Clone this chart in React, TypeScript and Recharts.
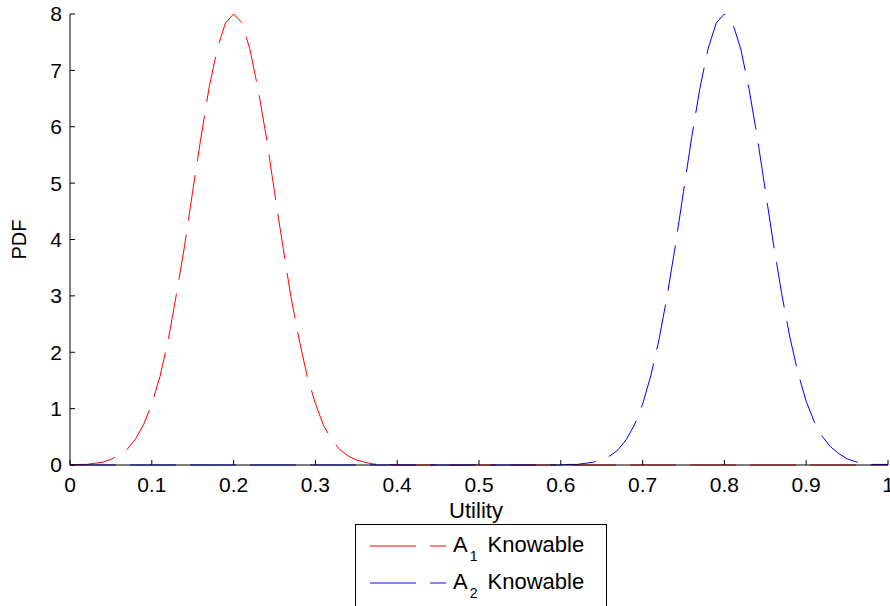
import React from 'react';
import { LineChart, Line, XAxis, YAxis, Legend } from 'recharts';

// utility grid (x) and the two density curves
const utility = [
  0, 0.01, 0.02, 0.03, 0.04, 0.05, 0.06, 0.07, 0.08, 0.09,
  0.1, 0.11, 0.12, 0.13, 0.14, 0.15, 0.16, 0.17, 0.18, 0.19,
  0.2, 0.21, 0.22, 0.23, 0.24, 0.25, 0.26, 0.27, 0.28, 0.29,
  0.3, 0.31, 0.32, 0.33, 0.34, 0.35, 0.36, 0.37, 0.38, 0.39,
  0.4, 0.41, 0.42, 0.43, 0.44, 0.45, 0.46, 0.47, 0.48, 0.49,
  0.5, 0.51, 0.52, 0.53, 0.54, 0.55, 0.56, 0.57, 0.58, 0.59,
  0.6, 0.61, 0.62, 0.63, 0.64, 0.65, 0.66, 0.67, 0.68, 0.69,
  0.7, 0.71, 0.72, 0.73, 0.74, 0.75, 0.76, 0.77, 0.78, 0.79,
  0.8, 0.81, 0.82, 0.83, 0.84, 0.85, 0.86, 0.87, 0.88, 0.89,
  0.9, 0.91, 0.92, 0.93, 0.94, 0.95, 0.96, 0.97, 0.98, 0.99,
  1,
];

const a1Knowable = [
  0.0, 0.01, 0.01, 0.03, 0.05, 0.1, 0.17, 0.28, 0.46, 0.72,
  1.08, 1.57, 2.21, 3.02, 3.88, 4.86, 5.8, 6.69, 7.38, 7.84,
  8.0, 7.85, 7.37, 6.66, 5.82, 4.84, 3.9, 2.99, 2.23, 1.57,
  1.09, 0.7, 0.45, 0.27, 0.16, 0.09, 0.05, 0.02, 0.01, 0.01,
  0, 0, 0, 0, 0, 0, 0, 0, 0, 0,
  0, 0, 0, 0, 0, 0, 0, 0, 0, 0,
  0, 0, 0, 0, 0, 0, 0, 0, 0, 0,
  0, 0, 0, 0, 0, 0, 0, 0, 0, 0,
  0, 0, 0, 0, 0, 0, 0, 0, 0, 0,
  0, 0, 0, 0, 0, 0, 0, 0, 0, 0,
  0,
];

const a2Knowable = [
  0, 0, 0, 0, 0, 0, 0, 0, 0, 0,
  0, 0, 0, 0, 0, 0, 0, 0, 0, 0,
  0, 0, 0, 0, 0, 0, 0, 0, 0, 0,
  0, 0, 0, 0, 0, 0, 0, 0, 0, 0,
  0, 0, 0, 0, 0, 0, 0, 0, 0, 0,
  0, 0, 0, 0, 0, 0, 0, 0, 0, 0,
  0.0, 0.01, 0.01, 0.03, 0.05, 0.1, 0.16, 0.27, 0.45, 0.71,
  1.08, 1.58, 2.22, 3.0, 3.89, 4.85, 5.81, 6.68, 7.38, 7.84,
  8.0, 7.84, 7.38, 6.68, 5.83, 4.87, 3.92, 3.04, 2.27, 1.63,
  1.13, 0.76, 0.5, 0.32, 0.2, 0.11, 0.06, 0.03, 0.01, 0.01,
  0.01,
];

const xTicks = [0, 0.1, 0.2, 0.3, 0.4, 0.5, 0.6, 0.7, 0.8, 0.9, 1];
const yTicks = [0, 1, 2, 3, 4, 5, 6, 7, 8];

const data = utility.map((x, i) => ({ x, a1: a1Knowable[i], a2: a2Knowable[i] }));

const FONT = '"Liberation Sans", Arial, Helvetica, sans-serif';
const DASH = '46 14';

const LegendRow = ({ y, color, sub }: { y: number; color: string; sub: string }) => (
  <g>
    <line x1={15} x2={91} y1={y} y2={y} stroke={color} strokeDasharray={DASH} />
    <text x={98} y={y + 6} fontSize={22} fill="#000" fontFamily={FONT}>
      A<tspan dy={9} dx={2} fontSize={14}>{sub}</tspan>
      <tspan dy={-9} dx={10} fontSize={22}>Knowable</tspan>
    </text>
  </g>
);

const LegendBox = () => (
  <svg width={252} height={90} style={{ display: 'block' }}>
    <rect x={0.5} y={0.5} width={251} height={100} fill="#fff" stroke="#000" strokeWidth={1} />
    <LegendRow y={22} color="#ff0000" sub="1" />
    <LegendRow y={59} color="#0000ff" sub="2" />
  </svg>
);

const App = () => {
  const fmt = (v: number) => String(v);
  return (
    <div style={{ position: 'absolute', left: 0, top: 0, width: 890, height: 606, overflow: 'hidden', background: '#fff', fontFamily: FONT }}>
      <LineChart width={890} height={606} data={data} margin={{ top: 14, right: 2, bottom: 111, left: 10 }}>
        <XAxis
          xAxisId="b"
          dataKey="x"
          type="number"
          domain={[0, 1]}
          ticks={xTicks}
          interval={0}
          tickFormatter={fmt}
          tickSize={-5}
          tickMargin={17}
          height={30}
          stroke="#000"
          fontSize={21}
          tick={{ fill: '#000', fontSize: 21 }}
          label={{
            content: ({ viewBox }: any) => (
              <text x={viewBox.x + viewBox.width / 2 - 3} y={viewBox.y + 53} textAnchor="middle" fontSize={22} fill="#000">
                Utility
              </text>
            ),
          }}
        />
        <XAxis
          xAxisId="t"
          orientation="top"
          dataKey="x"
          type="number"
          domain={[0, 1]}
          ticks={xTicks}
          interval={0}
          tickFormatter={() => ''}
          tickSize={-5}
          height={0}
          stroke="#000"
        />
        <YAxis
          yAxisId="l"
          type="number"
          domain={[0, 8]}
          ticks={yTicks}
          interval={0}
          tickSize={-5}
          tickMargin={13}
          width={60}
          stroke="#000"
          fontSize={21}
          tick={{ fill: '#000', fontSize: 21 }}
          label={{
            content: ({ viewBox }: any) => {
              const cy = viewBox.y + viewBox.height / 2;
              return (
                <text x={26} y={cy} textAnchor="middle" fontSize={20} fill="#000" transform={`rotate(-90, 26, ${cy})`}>
                  PDF
                </text>
              );
            },
          }}
        />
        <YAxis
          yAxisId="r"
          orientation="right"
          type="number"
          domain={[0, 8]}
          ticks={yTicks}
          interval={0}
          tickFormatter={() => ''}
          tickSize={-5}
          width={0}
          stroke="#000"
        />
        <Line
          xAxisId="b"
          yAxisId="l"
          type="linear"
          dataKey="a1"
          stroke="#ff0000"
          strokeWidth={1}
          strokeDasharray={DASH}
          dot={false}
          isAnimationActive={false}
        />
        <Line
          xAxisId="b"
          yAxisId="l"
          type="linear"
          dataKey="a2"
          stroke="#0000ff"
          strokeWidth={1}
          strokeDasharray={DASH}
          dot={false}
          isAnimationActive={false}
        />
        <Legend
          layout="vertical"
          align="center"
          verticalAlign="middle"
          content={() => <LegendBox />}
          wrapperStyle={{ left: 355, top: 524, width: 252, height: 90, margin: 0, padding: 0 }}
        />
      </LineChart>
    </div>
  );
};

export default App;
